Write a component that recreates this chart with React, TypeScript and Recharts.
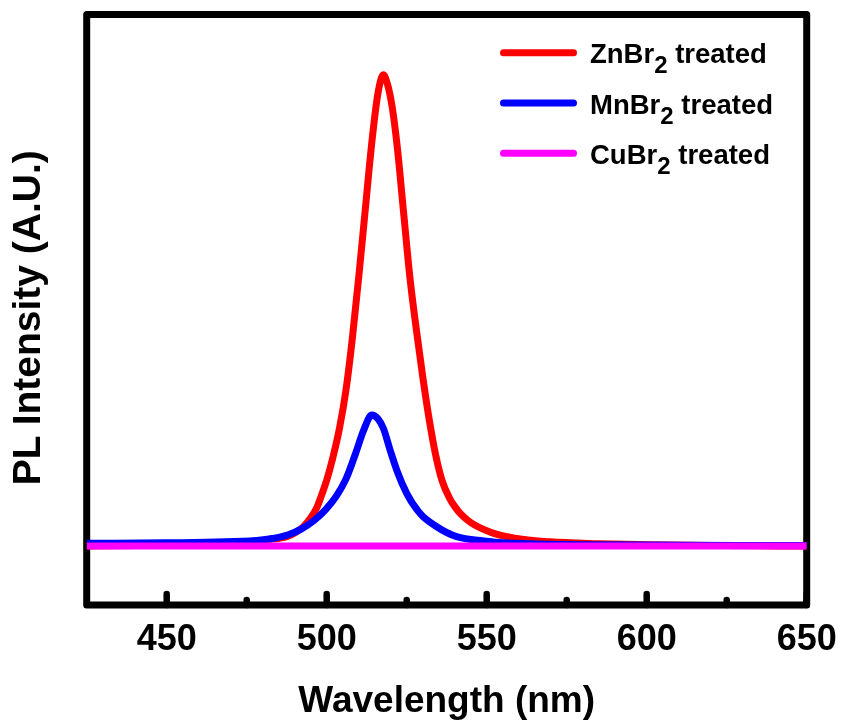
import React from 'react';
import { LineChart, Line, XAxis, YAxis, ReferenceArea, Legend } from 'recharts';

// PL spectra (normalised, ZnBr2 peak = 1)
const znWave = [425, 440, 455, 465, 476, 482, 487.5, 490.5, 492.7, 495, 497, 498.5, 500, 502, 504, 506, 508, 510, 512, 514, 516, 517.7, 519, 520.5, 522, 524, 526, 528, 530, 532, 534, 536, 538.5, 541, 544, 551, 559.4, 569.8, 585, 600, 625, 650];
const znPL = [0.0, 0.001, 0.003, 0.005, 0.009, 0.014, 0.02, 0.03, 0.041, 0.06, 0.083, 0.11, 0.14, 0.19, 0.25, 0.33, 0.44, 0.57, 0.71, 0.85, 0.96, 1.0, 0.98, 0.93, 0.85, 0.71, 0.57, 0.46, 0.36, 0.27, 0.195, 0.14, 0.1, 0.075, 0.055, 0.03, 0.016, 0.009, 0.005, 0.003, 0.001, 0.0];

const mnWave = [425, 450, 476, 483, 488, 492, 496, 500, 503, 506, 509, 511.5, 514.1, 516, 517.7, 519.8, 521.9, 525, 529.2, 534.4, 540.6, 549, 559, 580, 650];
const mnPL = [0.006, 0.007, 0.011, 0.016, 0.024, 0.036, 0.054, 0.08, 0.106, 0.142, 0.196, 0.245, 0.278, 0.27, 0.25, 0.204, 0.161, 0.112, 0.069, 0.041, 0.02, 0.011, 0.006, 0.003, 0.001];

const cuWave = [425, 500, 550, 650];
const cuPL = [0.0, 0.0, 0.0, 0.0];

const seriesNames = ['ZnBr', 'MnBr', 'CuBr'];
const seriesColors = ['#ff0000', '#0000ff', '#ff00ff'];

const xTicks = [450, 475, 500, 525, 550, 575, 600, 625, 650];
const majorTicks = [450, 500, 550, 600, 650];

const FONT = '"Liberation Sans", Arial, sans-serif';

const toPoints = (xs: number[], ys: number[]) => xs.map((w, i) => ({ w, pl: ys[i] }));
const seriesData = [toPoints(znWave, znPL), toPoints(mnWave, mnPL), toPoints(cuWave, cuPL)];

const WaveTick = ({ x, y, payload }: any) => {
  const major = majorTicks.includes(payload.value);
  return (
    <g>
      <line x1={x} x2={x} y1={y} y2={y - (major ? 11 : 5)} stroke="#000" strokeWidth={6.5} strokeLinecap="round" />
      {major ? (
        <text x={x} y={y + 45} textAnchor="middle" fontSize={36} fontWeight="bold" fontFamily={FONT} fill="#000">
          {payload.value}
        </text>
      ) : null}
    </g>
  );
};

const LegendBox = () => (
  <svg width={320} height={165}>
    {seriesNames.map((name, i) => (
      <g key={name}>
        <line x1={13.5} x2={83.5} y1={32.7 + i * 50.3} y2={32.7 + i * 50.3} stroke={seriesColors[i]} strokeWidth={7} strokeLinecap="round" />
        <text x={100} y={43.3 + i * 50.3} fontSize={27.5} fontWeight="bold" fontFamily={FONT} fill="#000">
          {name}
          <tspan dy={10} fontSize={24}>2</tspan>
          <tspan dy={-10}> treated</tspan>
        </text>
      </g>
    ))}
  </svg>
);

const YTitle = ({ viewBox }: any) => {
  const cx = viewBox.x + 40;
  const cy = viewBox.y + viewBox.height / 2 + 8;
  return (
    <text x={cx} y={cy} transform={`rotate(-90, ${cx}, ${cy})`} textAnchor="middle" fontSize={39} fontWeight="bold" fontFamily={FONT} fill="#000">
      PL Intensity (A.U.)
    </text>
  );
};

const XTitle = ({ viewBox }: any) => (
  <text x={viewBox.x + viewBox.width / 2} y={viewBox.y + 107} textAnchor="middle" fontSize={37} fontWeight="bold" fontFamily={FONT} fill="#000">
    Wavelength (nm)
  </text>
);

const App = () => (
  <div style={{ position: 'fixed', left: 0, top: 0 }}>
    <LineChart width={843} height={722} margin={{ top: 14.5, right: 36.3, left: 0, bottom: 0 }}>
      <XAxis
        dataKey="w"
        type="number"
        domain={[425, 650]}
        ticks={xTicks}
        allowDataOverflow
        axisLine={false}
        tickLine={false}
        tickSize={0}
        tickMargin={0}
        height={117}
        interval={0}
        tick={<WaveTick />}
        label={<XTitle />}
      />
      <YAxis
        type="number"
        domain={[-0.125, 1.128]}
        allowDataOverflow
        width={86.7}
        tick={false}
        tickLine={false}
        axisLine={false}
        label={<YTitle />}
      />
      <ReferenceArea x1={425} x2={650} y1={-0.125} y2={1.128} fill="none" stroke="#000" strokeWidth={7} strokeLinejoin="round" fillOpacity={0} />
      <Legend layout="vertical" align="center" verticalAlign="middle" content={<LegendBox />} wrapperStyle={{ left: 490, top: 20, width: 320 }} />
      {seriesNames.map((name, i) => (
        <Line
          key={name}
          data={seriesData[i]}
          dataKey="pl"
          name={`${name}2 treated`}
          type="monotone"
          stroke={seriesColors[i]}
          strokeWidth={7}
          dot={false}
          activeDot={false}
          isAnimationActive={false}
          strokeLinejoin="round"
        />
      ))}
    </LineChart>
  </div>
);

export default App;
